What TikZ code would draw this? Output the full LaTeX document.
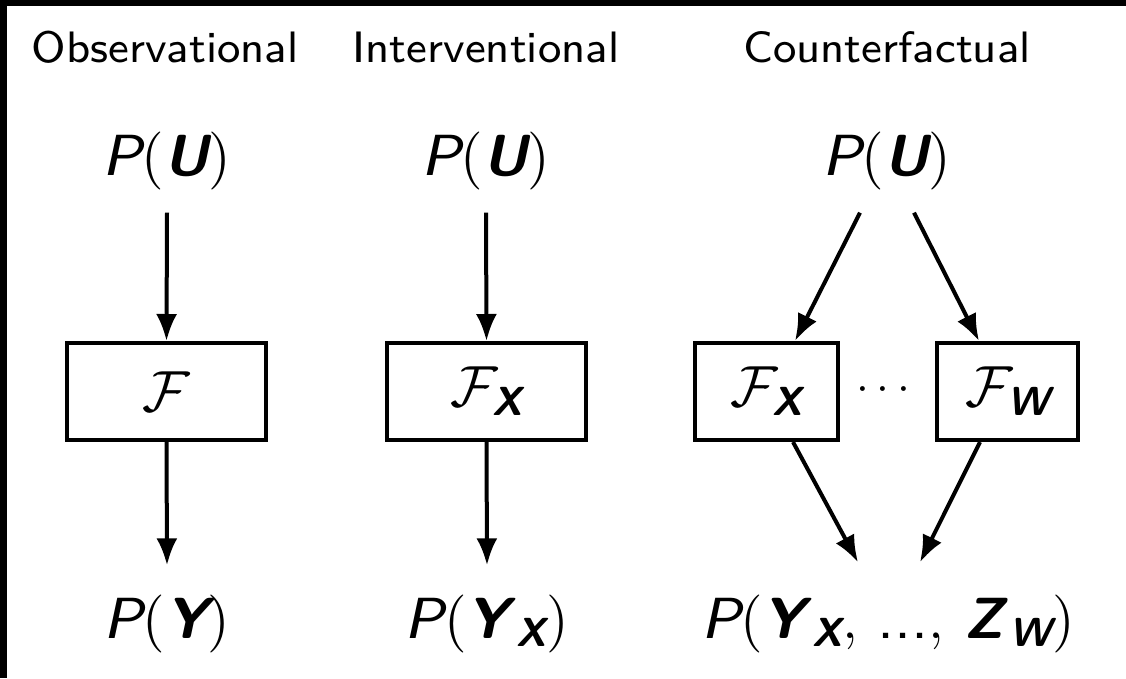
\RequirePackage{fix-cm}
\documentclass[tikz,border=0pt]{standalone}
\usepackage{amsmath}
\usepackage{fontspec}
\newfontfamily\hf{lmsans8-regular}[Extension=.otf, ItalicFont=lmsans8-oblique, BoldFont=lmsans10-bold, BoldItalicFont=lmsans10-boldoblique]
\newfontfamily\pf{lmroman10-regular}[Extension=.otf]
\usetikzlibrary{arrows.meta}
\newcommand\sfit[1]{\text{\hf\itshape #1}}
\newcommand\sfbf[1]{\text{\hf\bfseries\itshape #1}}
\newcommand\sfup[1]{\text{\hf #1}}
\newcommand\lpar{\mathopen{\text{\pf(}}}
\newcommand\rpar{\mathclose{\text{\pf)}}}
\begin{document}
\begin{tikzpicture}[x=1pt,y=-1pt,
  head/.style={font=\fontsize{44}{50}\selectfont\hf, anchor=base, inner sep=0pt},
  expr/.style={font=\fontsize{58}{66}\selectfont, anchor=base, inner sep=0pt},
  fbox/.style={draw, line width=4pt, minimum height=97pt, font=\fontsize{58}{66}\selectfont, inner sep=0pt},
  arr/.style={line width=4pt, -{Latex[length=27pt,width=21pt]}}]
\useasboundingbox (0,0) rectangle (1126,678);
\fill[black] (0,0) rectangle (1126,6);
\fill[black] (0,0) rectangle (7,678);
% headings
\node[head] (h1) at (165,62) {Observational};
\node[head] (h2) at (486,62) {Interventional};
\node[head] (h3) at (887,62) {Counterfactual};
% top row
\node[expr] (pu1) at (167,175) {$\sfit{P}\lpar\sfbf{U}\rpar$};
\node[expr] (pu2) at (486,175) {$\sfit{P}\lpar\sfbf{U}\rpar$};
\node[expr] (pu3) at (887,175) {$\sfit{P}\lpar\sfbf{U}\rpar$};
% boxes
\node[fbox, minimum width=199pt] (f1) at (166.5,391.5) {$\mathcal{F}$};
\node[fbox, minimum width=199pt] (f2) at (486.5,391.5) {$\mathcal{F}_{\sfbf{X}}$};
\node[fbox, minimum width=143pt] (fx) at (766.5,391.5) {$\mathcal{F}_{\sfbf{X}}$};
\node[fbox, minimum width=141pt] (fw) at (1007.5,391.5) {$\mathcal{F}_{\sfbf{W}}$};
\node[font=\fontsize{46}{50}\selectfont, inner sep=0pt] (dots) at (887,390) {$\cdots$};
% bottom row
\node[expr] (py1) at (167,638) {$\sfit{P}\lpar\sfbf{Y}\rpar$};
\node[expr] (py2) at (487,638) {$\sfit{P}\lpar\sfbf{Y}_{\,\sfbf{X}}\rpar$};
\node[expr] (py3) at (888,638) {$\sfit{P}\lpar\sfbf{Y}_{\,\sfbf{X}},\,\sfup{...},\,\sfbf{Z}_{\,\sfbf{W}}\rpar$};
% arrows
\draw[arr] ([yshift=-23pt]pu1.south) -- (f1.north);
\draw[arr] ([yshift=-23pt]pu2.south) -- (f2.north);
\draw[arr] (f1.south) -- ([yshift=29pt]py1.north);
\draw[arr] (f2.south) -- ([yshift=29pt]py2.north);
\draw[arr] ([xshift=-27pt,yshift=-23pt]pu3.south) -- ([xshift=28.5pt]fx.north);
\draw[arr] ([xshift=27pt,yshift=-23pt]pu3.south) -- ([xshift=-28.5pt]fw.north);
\draw[arr] ([xshift=26.5pt]fx.south) -- ([xshift=-30pt,yshift=32pt]py3.north);
\draw[arr] ([xshift=-27.5pt]fw.south) -- ([xshift=32pt,yshift=32pt]py3.north);
\end{tikzpicture}
\end{document}
